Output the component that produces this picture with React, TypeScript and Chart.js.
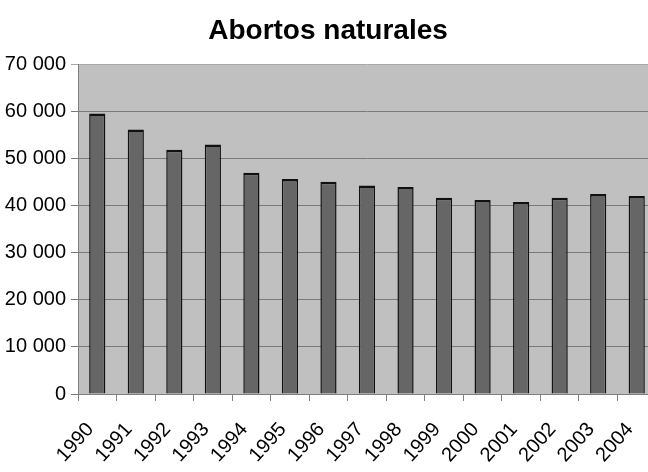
import React, { useEffect, useRef } from "react";
import { Chart, registerables } from "chart.js";

Chart.register(...registerables);

const title = "Abortos naturales";
const years = ["1990", "1991", "1992", "1993", "1994", "1995", "1996", "1997", "1998", "1999", "2000", "2001", "2002", "2003", "2004"];
const abortos = [59600, 56200, 51900, 53000, 47000, 45700, 45100, 44300, 44000, 41700, 41200, 40800, 41700, 42500, 42100];
const yMin = 0;
const yMax = 70000;
const yStep = 10000;

const bgPlugin = {
  id: "plotBg",
  beforeDraw(chart: any) {
    const { ctx, chartArea } = chart;
    if (!chartArea) return;
    ctx.save();
    ctx.fillStyle = "#c0c0c0";
    ctx.fillRect(chartArea.left, chartArea.top, chartArea.right - chartArea.left, chartArea.bottom - chartArea.top);
    ctx.restore();
  },
};

const fmt = (v: number) => {
  const s = String(Math.round(v));
  return s.replace(/\B(?=(\d{3})+(?!\d))/g, " ");
};

export default function App() {
  const ref = useRef<HTMLCanvasElement>(null);
  useEffect(() => {
    document.body.style.margin = "0";
    const chart = new Chart(ref.current!, {
      type: "bar",
      data: {
        labels: years,
        datasets: [
          {
            data: abortos,
            backgroundColor: "#666666",
            borderColor: "#111111",
            borderWidth: { top: 2.5, left: 1.5, right: 1.5, bottom: 0 } as any,
            borderSkipped: false,
            categoryPercentage: 1,
            barPercentage: 0.42,
          },
        ],
      },
      options: {
        animation: false,
        responsive: false,
        layout: { padding: { left: 0, right: 0, top: 0, bottom: 0 } },
        plugins: {
          legend: { display: false },
          tooltip: { enabled: false },
          title: {
            display: true,
            text: title,
            color: "#000000",
            font: { family: "Liberation Sans, Arial, sans-serif", size: 28, weight: "bold" },
            padding: { top: 14, bottom: 17 },
          },
        },
        scales: {
          x: {
            grid: { drawOnChartArea: false, color: "#808080", tickLength: 7, offset: true },
            border: { color: "#808080" },
            ticks: {
              color: "#000000",
              minRotation: 48,
              maxRotation: 48,
              autoSkip: false,
              padding: 17,
              labelOffset: -7,
              font: { family: "Liberation Sans, Arial, sans-serif", size: 20 },
            },
            afterFit(scale: any) {
              scale.height = 78;
              scale.paddingLeft = 0;
              scale.paddingRight = 0;
            },
          },
          y: {
            min: yMin,
            max: yMax,
            grid: {
              color: (c: any) => (c.tick && c.tick.value === yMax ? "#a8a8a8" : "#7a7a7a"),
              tickLength: 7,
            },
            border: { color: "#808080" },
            ticks: {
              stepSize: yStep,
              color: "#000000",
              padding: 5,
              font: { family: "Liberation Sans, Arial, sans-serif", size: 20 },
              callback: (v: any) => fmt(Number(v)),
            },
            afterFit(scale: any) {
              scale.width = 78;
            },
          },
        },
      },
      plugins: [bgPlugin],
    });
    return () => chart.destroy();
  }, []);
  return (
    <div style={{ width: 648, height: 472, overflow: "hidden", position: "relative" }}>
      <canvas ref={ref} width={656} height={472} style={{ display: "block" }} />
    </div>
  );
}
